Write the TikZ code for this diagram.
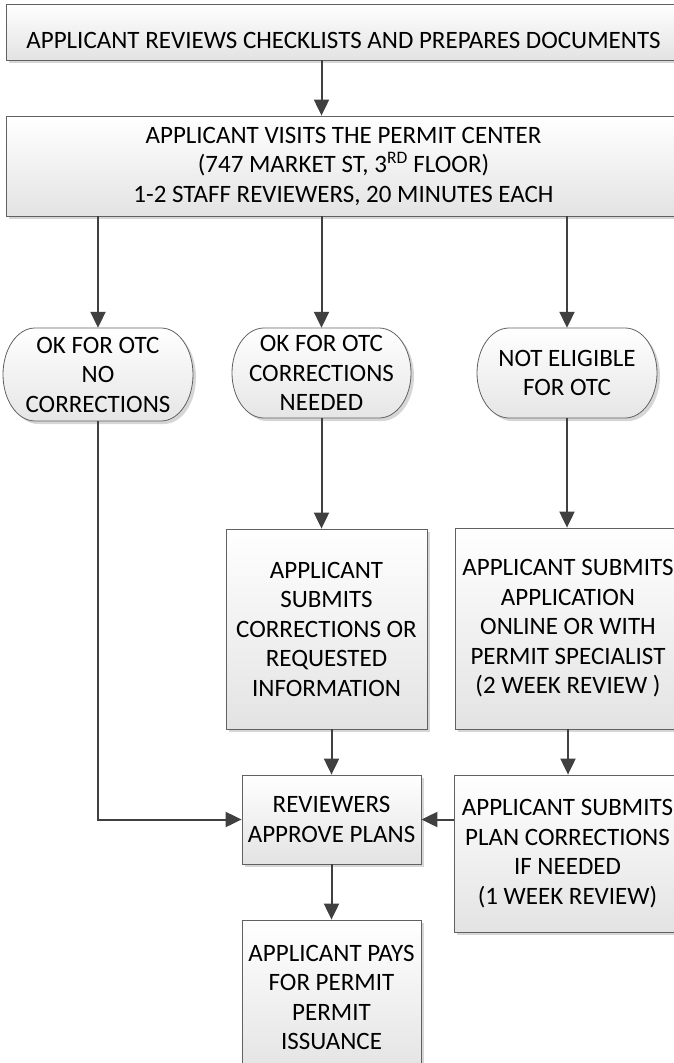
\documentclass[tikz,border=0pt]{standalone}
\usepackage{fontspec}
\setmainfont{Carlito}
\usetikzlibrary{arrows.meta,shadows}
\tikzset{
  txt/.style={font=\fontsize{25}{29.5}\selectfont, align=center, inner sep=0pt, text=black},
  box/.style={txt, rectangle, draw=black!62, line width=0.8pt, top color=white, bottom color=black!11,
     drop shadow={shadow xshift=3pt, shadow yshift=-3pt, fill=black!20, opacity=0.8}},
  ovaltxt/.style={txt, rectangle},
  ovalfill/.style={draw=black!62, line width=0.8pt, top color=white, bottom color=black!10},
  ovalshadow/.style={fill=black!20, opacity=0.8},
  arr/.style={draw=black!75, line width=2pt, -{Triangle[length=16pt,width=15pt]}},
}
\newcommand{\ovalpath}[4]{%
  ({#1-#3/2+32},{#2+#4/2}) -- ({#1+#3/2-32},{#2+#4/2})
  arc[start angle=90, end angle=-90, x radius=32, y radius={#4/2}]
  -- ({#1-#3/2+32},{#2-#4/2})
  arc[start angle=270, end angle=90, x radius=32, y radius={#4/2}] -- cycle}
\newcommand{\ovalnode}[6]{%
  \path[ovalshadow] \ovalpath{#1+3}{#2-3}{#3}{#4};
  \path[ovalfill] \ovalpath{#1}{#2}{#3}{#4};
  \node[ovaltxt, minimum width=#3pt, minimum height=#4pt] (#5) at (#1,#2) {#6};}
\begin{document}
\begin{tikzpicture}[x=1pt,y=1pt]
\useasboundingbox (0,0) rectangle (674,-1063);
\clip (0,0) rectangle (674,-1063);

\node[box, minimum width=675pt, minimum height=56pt, text height=32pt, text depth=0pt] (b1) at (343.5,-32)
  {APPLICANT REVIEWS CHECKLISTS AND PREPARES DOCUMENTS};
\node[box, minimum width=675pt, minimum height=100pt] (b2) at (343.5,-166)
  {APPLICANT VISITS THE PERMIT CENTER\\(747 MARKET ST, 3\textsuperscript{RD} FLOOR)\\1-2 STAFF REVIEWERS, 20 MINUTES EACH};

\ovalnode{98}{-374.5}{190}{93}{o1}{OK FOR OTC\\NO\\CORRECTIONS}
\ovalnode{321.5}{-373}{179}{90}{o2}{OK FOR OTC\\CORRECTIONS\\NEEDED}
\ovalnode{567}{-373}{180}{90}{o3}{NOT ELIGIBLE\\FOR OTC}

\node[box, minimum width=201pt, minimum height=200pt] (b3) at (326.5,-629)
  {APPLICANT\\SUBMITS\\CORRECTIONS OR\\REQUESTED\\INFORMATION};
\node[box, minimum width=226pt, minimum height=201pt] (b4) at (568,-628.5)
  {APPLICANT SUBMITS\\APPLICATION\\ONLINE OR WITH\\PERMIT SPECIALIST\\(2 WEEK REVIEW )};
\node[box, minimum width=179pt, minimum height=89pt] (b5) at (331.5,-819.5)
  {REVIEWERS\\APPROVE PLANS};
\node[box, minimum width=227pt, minimum height=157pt] (b6) at (567.5,-853.5)
  {APPLICANT SUBMITS\\PLAN CORRECTIONS\\IF NEEDED\\(1 WEEK REVIEW)};
\node[box, minimum width=179pt, minimum height=155pt] (b7) at (331.5,-997.5)
  {APPLICANT PAYS\\FOR PERMIT\\PERMIT\\ISSUANCE};

\draw[arr] (o2 |- b1.south) -- (o2 |- b2.north);
\draw[arr] (o1 |- b2.south) -- (o1.north);
\draw[arr] (o2 |- b2.south) -- (o2.north);
\draw[arr] (o3 |- b2.south) -- (o3.north);
\draw[arr] (o1.south) |- (b5.west);
\draw[arr] (o2.south) -- (o2 |- b3.north);
\draw[arr] (o3.south) -- (o3 |- b4.north);
\draw[arr] (b5 |- b3.south) -- (b5.north);
\draw[arr] (b4.south) -- (b4 |- b6.north);
\draw[arr] (b5.east -| b6.west) -- (b5.east);
\draw[arr] (b5.south) -- (b7.north);
\end{tikzpicture}
\end{document}
